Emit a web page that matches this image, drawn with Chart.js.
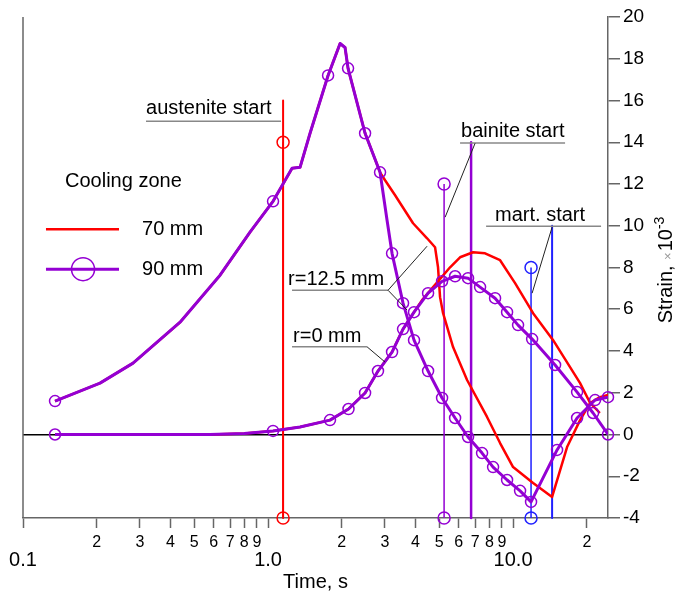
<!DOCTYPE html>
<html>
<head>
<meta charset="utf-8">
<script src="https://cdn.jsdelivr.net/npm/chart.js@4.4.0/dist/chart.umd.min.js"></script>
<style>
  body { margin: 0; background: #fff; }
  canvas { display: block; }
</style>
</head>
<body>
<canvas id="strain" width="678" height="592"></canvas>
<script>
// time axis ticks
let timeTicks = [0.1, 0.2, 0.3, 0.4, 0.5, 0.6, 0.7, 0.8, 0.9, 1, 2, 3, 4, 5, 6, 7, 8, 9, 10, 20];
let timeTickLabels = ['0.1', '2', '3', '4', '5', '6', '7', '8', '9', '1.0', '2', '3', '4', '5', '6', '7', '8', '9', '10.0', '2'];
let timeMajor = [0.1, 1, 10];

// 90 mm, r=12.5 mm
let r12Time90 = [0.1351, 0.2062, 0.2812, 0.4375, 0.637, 0.844, 1.048, 1.253, 1.351, 1.484, 1.758, 1.968, 2.062, 2.121, 2.489, 2.865, 3.06, 3.207, 3.556, 3.943, 4.499, 5.131, 5.799, 6.551, 7.472, 8.287, 9.452, 10.68, 11.84, 15.12, 18.25, 21.61, 24.4];
let r12Strain90 = [1.60, 2.46, 3.42, 5.38, 7.63, 9.69, 11.17, 12.75, 12.80, 14.43, 17.20, 18.73, 18.54, 17.54, 14.43, 12.56, 10.26, 8.68, 6.29, 4.52, 3.04, 1.75, 0.79, -0.12, -0.89, -1.56, -2.18, -2.70, -3.23, -0.74, 0.79, 1.65, 1.79];
let r12MarkTime90 = [0.1351, 1.048, 1.758, 2.121, 2.489, 2.865, 3.207, 3.556, 3.943, 4.499, 5.131, 5.799, 6.551, 7.472, 8.287, 9.452, 10.68, 11.84, 15.12, 18.25, 21.61, 24.4];
let r12MarkStrain90 = [1.60, 11.17, 17.20, 17.54, 14.43, 12.56, 8.68, 6.29, 4.52, 3.04, 1.75, 0.79, -0.12, -0.89, -1.56, -2.18, -2.70, -3.23, -0.74, 0.79, 1.65, 1.79];

// 90 mm, r=0 mm
let r0Time90 = [0.1351, 0.58, 0.80, 1.048, 1.351, 1.79, 2.13, 2.489, 2.81, 3.207, 3.556, 3.943, 4.499, 5.131, 5.799, 6.551, 7.334, 8.443, 9.452, 10.48, 11.96, 14.84, 18.25, 21.21, 24.4];
let r0Strain90 = [0, 0, 0.05, 0.17, 0.36, 0.69, 1.22, 1.99, 3.04, 3.95, 5.05, 5.86, 6.77, 7.34, 7.58, 7.49, 7.06, 6.53, 5.86, 5.24, 4.57, 3.33, 2.03, 1.03, 0];
let r0MarkTime90 = [0.1351, 1.048, 1.79, 2.13, 2.489, 2.81, 3.207, 3.556, 3.943, 4.499, 5.131, 5.799, 6.551, 7.334, 8.443, 9.452, 10.48, 11.96, 14.84, 18.25, 21.21, 24.4];
let r0MarkStrain90 = [0, 0.17, 0.69, 1.22, 1.99, 3.04, 3.95, 5.05, 5.86, 6.77, 7.34, 7.58, 7.49, 7.06, 6.53, 5.86, 5.24, 4.57, 3.33, 2.03, 1.03, 0];

// 70 mm, r=12.5 mm
let r12Time70 = [0.1351, 0.2062, 0.2812, 0.4375, 0.637, 0.844, 1.048, 1.253, 1.351, 1.484, 1.758, 1.968, 2.062, 2.121, 2.489, 2.865, 3.003, 3.30, 3.907, 4.457, 4.804, 4.94, 5.035, 5.18, 5.69, 6.49, 7.83, 8.85, 10.0, 12.07, 14.43, 16.61, 18.77, 20.63, 22.6, 24.4];
let r12Strain70 = [1.60, 2.46, 3.42, 5.38, 7.63, 9.69, 11.17, 12.75, 12.80, 14.43, 17.20, 18.73, 18.54, 17.54, 14.43, 12.56, 12.18, 11.46, 10.12, 9.40, 8.97, 8.01, 6.58, 5.81, 4.19, 2.61, 0.84, -0.41, -1.56, -2.32, -2.99, -0.60, 0.69, 1.51, 1.79, 1.89];

// 70 mm, r=0 mm
let r0Time70 = [0.1351, 0.58, 0.80, 1.048, 1.351, 1.79, 2.13, 2.489, 2.81, 3.207, 3.556, 3.943, 4.251, 4.716, 5.533, 6.076, 6.867, 7.686, 8.85, 10.19, 12.07, 14.57, 18.77, 20.63, 22.6];
let r0Strain70 = [0, 0, 0.05, 0.17, 0.36, 0.69, 1.22, 1.99, 3.04, 3.95, 5.05, 5.86, 6.44, 7.06, 8.01, 8.49, 8.73, 8.68, 8.35, 7.25, 5.81, 4.52, 2.46, 1.51, 1.03];

// phase start markers: austenite, bainite, martensite
let phaseTime70 = [1.152, 6.74, 14.43];
let phaseTop70 = [16, 14, 10];
let phaseTime90 = [1.152, 5.23, 11.84];
let phaseMark90 = [14, 12, 8];

let strainMin = -4, strainMax = 20;
let timeMin = 0.1, timeMax = 24.4;

const PURPLE = '#9400d3', RED = '#ff0000', BLUE = '#2020ff';
const phaseColors = [RED, PURPLE, BLUE];
const FONT = 'Arial, "Liberation Sans", Helvetica, sans-serif';
Chart.defaults.font.family = FONT;
Chart.defaults.color = '#000';

const pts = (ts, ss) => ts.map((t, i) => ({x: t, y: ss[i]}));

const curve = (data, color, width, order) => ({
    data, borderColor: color, borderWidth: width, pointRadius: 0,
    pointHoverRadius: 0, tension: 0, borderJoinStyle: 'round', fill: false, order,
});
const marks = (data, color, order) => ({
    data, showLine: false, pointRadius: 5.5, pointHoverRadius: 5.5,
    pointBorderWidth: 1.5, pointBorderColor: color,
    pointBackgroundColor: 'rgba(0,0,0,0)', clip: false, order,
});

let datasets = [
    marks(pts(r12MarkTime90, r12MarkStrain90), PURPLE, 0),
    marks(pts(r0MarkTime90, r0MarkStrain90), PURPLE, 0),
    curve(pts(r12Time90, r12Strain90), PURPLE, 3, 1),
    curve(pts(r0Time90, r0Strain90), PURPLE, 3, 1),
    curve(pts(r12Time70, r12Strain70), RED, 2.5, 2),
    curve(pts(r0Time70, r0Strain70), RED, 2.5, 2),
];

for (let i = 0; i < 3; i++) {
    let c = phaseColors[i];
    datasets.push(Object.assign(curve([{x: phaseTime70[i], y: phaseTop70[i]}, {x: phaseTime70[i], y: strainMin}], c, i == 1 ? 2.5 : 2, 5), {clip: false}));
    datasets.push(Object.assign(marks([{x: phaseTime90[i], y: phaseMark90[i]}, {x: phaseTime90[i], y: strainMin}], c, 4), {showLine: true, borderColor: c, borderWidth: 1.5, pointRadius: 6}));
}

// labels, leader lines, legend and the strain title
const notes = {
    id: 'notes',
    afterDatasetsDraw(chart) {
        const {ctx, chartArea: a, scales: {x, y}} = chart;
        const px = t => x.getPixelForValue(t);
        const py = s => y.getPixelForValue(s);
        const seg = (t1, s1, t2, s2, color, w) => {
            ctx.beginPath();
            ctx.strokeStyle = color;
            ctx.lineWidth = w;
            ctx.moveTo(px(t1), py(s1));
            ctx.lineTo(px(t2), py(s2));
            ctx.stroke();
        };
        ctx.save();

        // left frame
        ctx.strokeStyle = '#666';
        ctx.lineWidth = 1.5;
        ctx.beginPath();
        ctx.moveTo(a.left, a.top);
        ctx.lineTo(a.left, a.bottom);
        ctx.stroke();

        ctx.font = '20px ' + FONT;
        ctx.fillStyle = '#000';
        ctx.textBaseline = 'alphabetic';
        ctx.textAlign = 'left';
        let texts = [
            ['austenite start', 0.3177, 15.33],
            ['bainite start', 6.134, 14.25],
            ['mart. start', 8.443, 10.23],
            ['r=12.5 mm', 1.207, 7.15],
            ['r=0 mm', 1.265, 4.44],
            ['Cooling zone', 0.1484, 11.84],
            ['70 mm', 0.306, 9.55],
            ['90 mm', 0.306, 7.63],
        ];
        texts.forEach(([s, t, v]) => ctx.fillText(s, px(t), py(v)));

        // underlines
        [[0.3177, 1.130, 15.01], [6.076, 16.30, 13.96], [7.76, 22.86, 9.98],
         [1.253, 3.089, 6.91], [1.253, 2.536, 4.20]]
            .forEach(([t1, t2, v]) => seg(t1, v, t2, v, '#888', 1.5));

        // leaders
        [[6.997, 13.95, 5.28, 10.41], [14.43, 9.93, 11.96, 6.77],
         [3.089, 6.91, 4.457, 9.02], [3.089, 6.91, 3.693, 5.96],
         [2.536, 4.20, 3.003, 3.47]]
            .forEach(([t1, s1, t2, s2]) => seg(t1, s1, t2, s2, '#222', 1));

        // legend
        seg(0.1241, 9.83, 0.2465, 9.83, RED, 2.5);
        seg(0.1241, 7.92, 0.2465, 7.92, PURPLE, 3);
        ctx.beginPath();
        ctx.strokeStyle = PURPLE;
        ctx.lineWidth = 1.5;
        ctx.arc(px(0.1758), py(7.92), 11.5, 0, Math.PI * 2);
        ctx.stroke();

        // y title, rotated
        ctx.translate(a.right + 64, py(5.33));
        ctx.rotate(-Math.PI / 2);
        ctx.fillStyle = '#000';
        ctx.font = '20px ' + FONT;
        let s1 = 'Strain, ';
        ctx.fillText(s1, 0, 0);
        let w = ctx.measureText(s1).width;
        ctx.font = '13px ' + FONT;
        ctx.fillStyle = '#999';
        ctx.fillText('\u00d7', w, 0);
        w += ctx.measureText('\u00d7').width + 1;
        ctx.font = '20px ' + FONT;
        ctx.fillStyle = '#000';
        ctx.fillText('10', w, 0);
        w += ctx.measureText('10').width;
        ctx.font = '14px ' + FONT;
        ctx.fillText('-3', w, -8);
        ctx.restore();
    }
};

new Chart(document.getElementById('strain'), {
    type: 'line',
    data: {datasets},
    options: {
        responsive: false,
        animation: false,
        devicePixelRatio: 1,
        layout: {padding: {left: 23, top: 17, right: 0, bottom: 0}},
        plugins: {legend: {display: false}, tooltip: {enabled: false}},
        events: [],
        scales: {
            x: {
                type: 'logarithmic',
                position: 'bottom',
                min: timeMin,
                max: timeMax,
                afterBuildTicks: s => { s.ticks = timeTicks.map(v => ({value: v})); },
                afterFit: s => { s.height = 74; },
                grid: {drawOnChartArea: false, tickLength: 10, tickColor: '#666', tickWidth: 1.5},
                border: {color: '#666', width: 1.5},
                ticks: {
                    autoSkip: false, maxRotation: 0, padding: 5, color: '#000',
                    callback: (v, i) => timeMajor.includes(timeTicks[i]) ? ['', timeTickLabels[i]] : timeTickLabels[i],
                    font: c => (c.tick && timeMajor.includes(c.tick.value)) ? {size: 20, lineHeight: 0.9} : {size: 16, lineHeight: 1.2},
                },
                title: {display: true, text: 'Time, s', font: {size: 20, lineHeight: 1.0}, padding: {top: 0, bottom: 0}, color: '#000'},
            },
            y: {
                type: 'linear',
                position: 'right',
                min: strainMin,
                max: strainMax,
                afterFit: s => { s.width = 70; },
                grid: {
                    drawOnChartArea: true,
                    color: c => (c.tick && c.tick.value === 0) ? '#000' : 'rgba(0,0,0,0)',
                    lineWidth: 1.5,
                    tickLength: 12, tickColor: '#666', tickWidth: 1.5,
                },
                border: {color: '#666', width: 1.5},
                ticks: {
                    stepSize: 1, padding: 3, color: '#000', font: {size: 19},
                    callback: v => v % 2 === 0 ? String(v) : '',
                },
            },
        },
    },
    plugins: [notes],
});
</script>
</body>
</html>
